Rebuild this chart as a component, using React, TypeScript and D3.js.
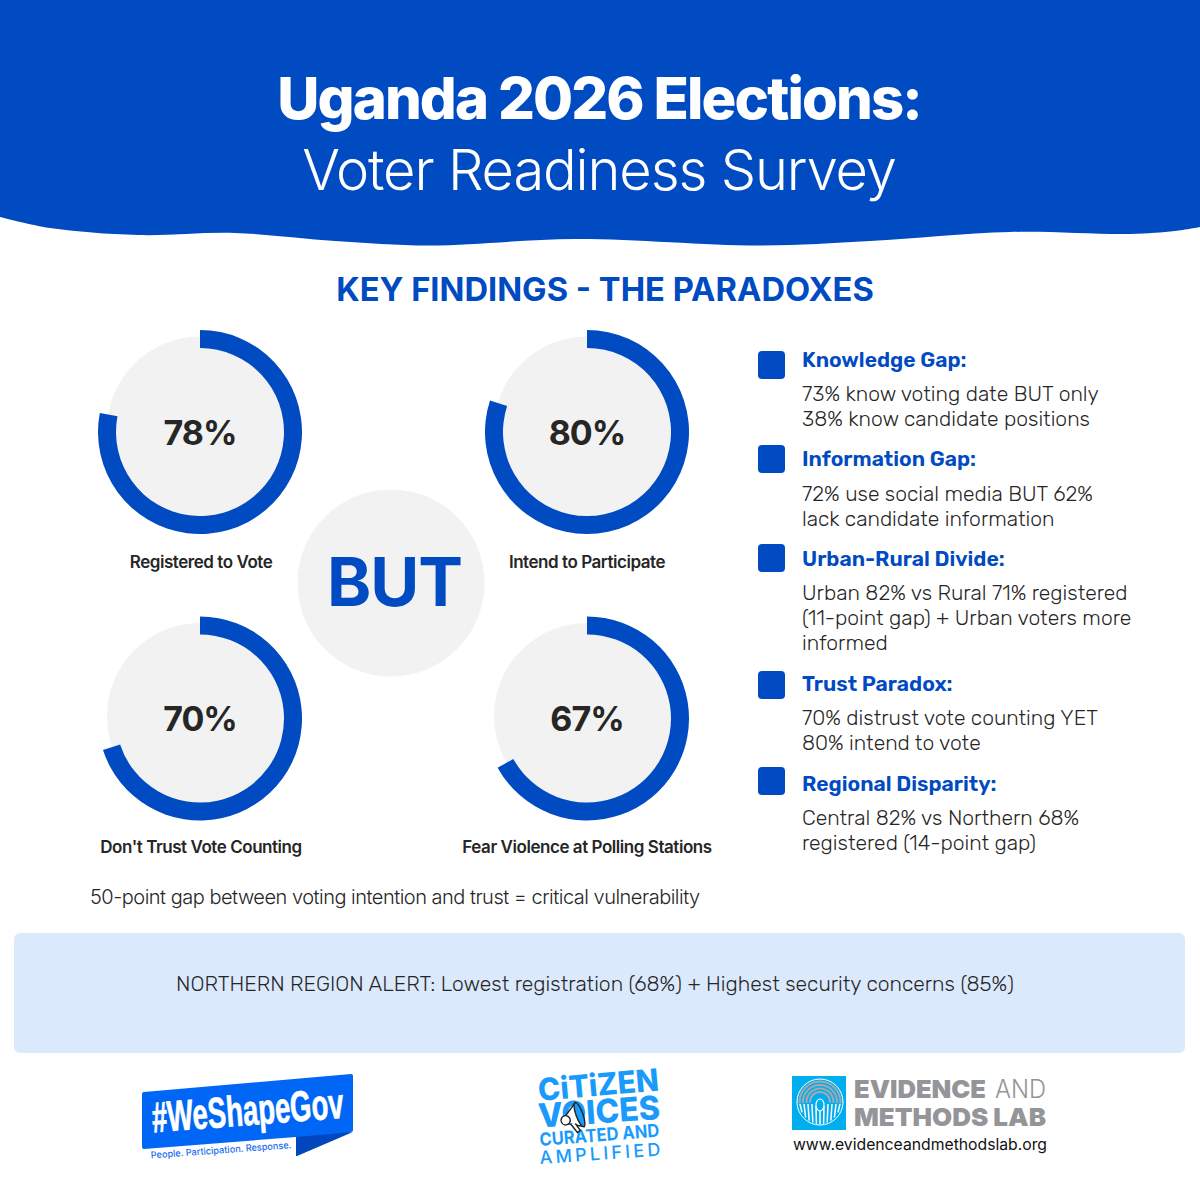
import React from 'react';
import * as d3 from 'd3';

const ringValues = [78, 80, 70, 67];
const ringLabels = ['Registered to Vote', 'Intend to Participate', "Don't Trust Vote Counting", 'Fear Violence at Polling Stations'];
const findingTitles = ['Knowledge Gap:', 'Information Gap:', 'Urban-Rural Divide:', 'Trust Paradox:', 'Regional Disparity:'];
const findingLines = [
  ['73% know voting date BUT only', '38% know candidate positions'],
  ['72% use social media BUT 62%', 'lack candidate information'],
  ['Urban 82% vs Rural 71% registered', '(11-point gap) + Urban voters more', 'informed'],
  ['70% distrust vote counting YET', '80% intend to vote'],
  ['Central 82% vs Northern 68%', 'registered (14-point gap)'],
];

const BLUE = '#004ac2';
const GREY = '#f2f2f2';
const DARK = '#262626';
const FONT = 'Inter, sans-serif';
const BODY = 'Rubik, Inter, sans-serif';

// bottom edge of the header band
const wavePoints: [number, number][] = [
  [0, 217], [50, 228], [138, 235], [235, 233], [335, 241], [430, 245.5], [575, 239],
  [760, 245.5], [870, 241], [1010, 232], [1130, 234], [1175, 231], [1200, 227],
];

const ringX = d3.scalePoint<number>().domain([0, 1]).range([200, 587]);
const ringY = d3.scalePoint<number>().domain([0, 1]).range([432, 718.5]);
const angle = d3.scaleLinear().domain([0, 100]).range([0, 2 * Math.PI]);
const arc = d3.arc<{ value: number }>()
  .innerRadius(84)
  .outerRadius(102)
  .startAngle(0)
  .endAngle((d) => angle(d.value));

const labelY = [568, 853];

const Ring = ({ value, label, i }: { value: number; label: string; i: number }) => {
  const col = i % 2;
  const row = Math.floor(i / 2);
  const cx = ringX(col) as number;
  const cy = ringY(row) as number;
  return (
    <g>
      <circle cx={cx} cy={cy - 2.5} r={93} fill={GREY} />
      <path d={arc({ value }) as string} transform={`translate(${cx},${cy})`} fill={BLUE} />
      <text x={cx} y={cy + 12.5} textAnchor="middle" fontFamily={FONT} fontWeight={700} fontSize={34} letterSpacing={-1} fill={DARK}>
        {value}%
      </text>
      <text x={cx + (col ? 0 : 1)} y={labelY[row]} textAnchor="middle" fontFamily={FONT} fontWeight={600} fontSize={17} letterSpacing={-0.45} fill={DARK}>
        {label}
      </text>
    </g>
  );
};

const squareTop = [351, 445, 544, 671, 767];
const titleBase = [367, 466, 566, 691, 790.5];
const lineBase = [401, 501, 600, 725, 825];

const Findings = () => (
  <g>
    {findingTitles.map((title, i) => (
      <g key={title}>
        <rect x={758} y={squareTop[i]} width={27} height={28} rx={4} fill={BLUE} />
        <text x={802} y={titleBase[i]} fontFamily={BODY} fontWeight={600} fontSize={21.1} fill={BLUE}>{title}</text>
        {findingLines[i].map((line, j) => (
          <text key={line} x={802} y={lineBase[i] + j * 25.2} fontFamily={BODY} fontWeight={300} fontSize={21.1} fill={DARK}>{line}</text>
        ))}
      </g>
    ))}
  </g>
);

const fingerRadii = [9, 12.5, 16, 19.5];
const fingerArc = d3.arc<number>()
  .innerRadius((r) => r)
  .outerRadius((r) => r + 2)
  .startAngle(-Math.PI * 0.52)
  .endAngle(Math.PI * 0.52);
const ridgeX = [-20, -16, -12, -8, -4, 0, 4, 8, 12, 16, 20];

const Logos = () => (
  <g>
    {/* WeShapeGov */}
    <path d="M142,1094 Q142,1092 144,1092 L351,1074 Q353,1074 353,1076 L353,1131 L296,1156 L296,1137 L144,1149 Q142,1149 142,1147 Z" fill="#0066f5" />
    <path d="M296,1137 L353,1132 L297,1156 L296,1156 Z" fill="#0047bd" />
    <text transform="translate(153,1132.5) rotate(-4.4)" fontFamily="'Liberation Sans Narrow', 'Liberation Sans', sans-serif" fontWeight={700} fontSize={43} textLength={192} lengthAdjust="spacingAndGlyphs" stroke="#fff" strokeWidth={0.7} fill="#fff">#WeShapeGov</text>
    <text transform="translate(151,1158.5) rotate(-4.2)" fontFamily={FONT} fontWeight={500} fontSize={9.5} textLength={141} lengthAdjust="spacingAndGlyphs" fill="#1d6ff0">People. Participation. Response.</text>

    {/* Citizen Voices */}
    <g fill="#1a9bfc" fontFamily={FONT}>
      <text transform="translate(539,1101) rotate(-5)" fontWeight={800} fontSize={31} textLength={121} lengthAdjust="spacingAndGlyphs">CiTiZEN</text>
      <text transform="translate(539,1127.5) rotate(-4)" fontWeight={800} fontSize={33} textLength={122} lengthAdjust="spacingAndGlyphs">VOICES</text>
      <text transform="translate(540,1146) rotate(-4.5)" fontWeight={700} fontSize={18} textLength={120} lengthAdjust="spacingAndGlyphs">CURATED AND</text>
      <text transform="translate(540,1164) rotate(-4)" fontWeight={500} fontSize={18} textLength={121} lengthAdjust="spacing">AMPLIFIED</text>
    </g>
    <g transform="translate(573,1117) rotate(-20) scale(1.15)" fill="#fff" stroke="#222" strokeWidth={1.2}>
      <path d="M-6,-3 L6,-11 L6,11 L-6,4 Z" />
      <ellipse cx={6} cy={0} rx={3} ry={11} fill="#1a9bfc" />
      <circle cx={-7} cy={0.5} r={4} />
      <path d="M-4,5 L-1,14 L2,13 L0,6" />
    </g>

    {/* Evidence and Methods Lab */}
    <rect x={792} y={1076} width={54} height={54} fill="#00aeef" />
    <g transform="translate(820,1102)">
      <circle r={23} fill="none" stroke="#fff" strokeWidth={1} />
      {fingerRadii.map((r) => (
        <path key={r} d={fingerArc(r) as string} fill="#a6a8ab" />
      ))}
      {ridgeX.map((x) => (
        <line key={x} x1={x} x2={x * 0.9} y1={Math.abs(x) < 6 ? 4 : 2} y2={Math.sqrt(23 * 23 - x * x) - 1} stroke="#fff" strokeWidth={1.5} />
      ))}
      <ellipse cy={3} rx={4} ry={6} fill="#00aeef" stroke="#fff" strokeWidth={1.2} />
    </g>
    <text x={854} y={1098} fontFamily={FONT} fontWeight={900} fontSize={25} textLength={132} lengthAdjust="spacingAndGlyphs" fill="#939598">EVIDENCE</text>
    <text x={995} y={1098} fontFamily={FONT} fontWeight={300} fontSize={25} textLength={51} lengthAdjust="spacingAndGlyphs" fill="#939598">AND</text>
    <text x={854} y={1126} fontFamily={FONT} fontWeight={900} fontSize={25} textLength={192} lengthAdjust="spacingAndGlyphs" fill="#939598">METHODS LAB</text>
    <text x={793} y={1150} fontFamily={FONT} fontWeight={400} fontSize={16} textLength={254} lengthAdjust="spacingAndGlyphs" fill="#111">www.evidenceandmethodslab.org</text>
  </g>
);

export default function App() {
  const wave = d3.line().curve(d3.curveCatmullRom)(wavePoints) as string;
  return (
    <svg width={1200} height={1200} viewBox="0 0 1200 1200" style={{ position: 'absolute', left: 0, top: 0, background: '#fff' }}>
      <path d={`${wave} L1200,0 L0,0 Z`} fill={BLUE} />
      <text x={599} y={119} textAnchor="middle" fontFamily={FONT} fontWeight={800} fontSize={58} letterSpacing={-1.9} fill="#fff">Uganda 2026 Elections:</text>
      <text x={599} y={190} textAnchor="middle" fontFamily={FONT} fontWeight={300} fontSize={56} letterSpacing={-1.15} fill="#fff">Voter Readiness Survey</text>
      <text x={605} y={301} textAnchor="middle" fontFamily={FONT} fontWeight={700} fontSize={32.7} fill={BLUE}>KEY FINDINGS - THE PARADOXES</text>

      {ringValues.map((v, i) => <Ring key={ringLabels[i]} value={v} label={ringLabels[i]} i={i} />)}

      <circle cx={391} cy={583} r={93.5} fill={GREY} />
      <text x={394.5} y={606} textAnchor="middle" fontFamily={FONT} fontWeight={700} fontSize={67} letterSpacing={-1} fill={BLUE}>BUT</text>

      <Findings />

      <text x={90} y={904} fontFamily={FONT} fontWeight={300} fontSize={20} letterSpacing={-0.5} fill={DARK}>50-point gap between voting intention and trust = critical vulnerability</text>
      <rect x={14} y={933} width={1171} height={120} rx={6} fill="#dbe9fd" />
      <text x={595} y={991} textAnchor="middle" fontFamily={BODY} fontWeight={300} fontSize={21.1} fill={DARK}>NORTHERN REGION ALERT: Lowest registration (68%) + Highest security concerns (85%)</text>

      <Logos />
    </svg>
  );
}
